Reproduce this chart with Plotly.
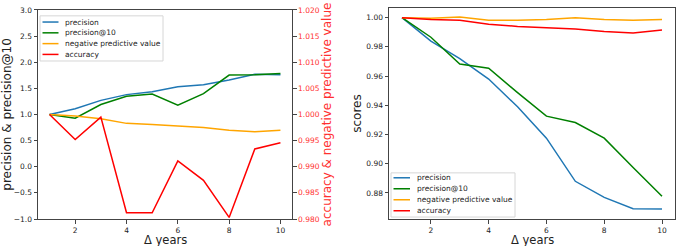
import plotly.graph_objects as go

years = [1, 2, 3, 4, 5, 6, 7, 8, 9, 10]

# left panel (relative change)
left_precision = [1.00, 1.11, 1.27, 1.38, 1.435, 1.53, 1.57, 1.66, 1.77, 1.76]
left_precision10 = [1.00, 0.93, 1.19, 1.35, 1.39, 1.18, 1.40, 1.755, 1.76, 1.785]
left_npv = [1.000, 0.9997, 0.9992, 0.9983, 0.9981, 0.9978, 0.9975, 0.9970, 0.9967, 0.9970]
left_accuracy = [1.000, 0.9952, 0.9995, 0.9812, 0.9812, 0.9911, 0.9874, 0.9803, 0.9934, 0.9946]

# right panel (scores)
right_precision = [1.000, 0.984, 0.972, 0.958, 0.939, 0.9175, 0.888, 0.877, 0.8693, 0.869]
right_precision10 = [1.000, 0.9866, 0.9683, 0.9654, 0.9487, 0.9326, 0.9282, 0.9175, 0.8974, 0.8778]
right_npv = [1.000, 0.9996, 1.0004, 0.9982, 0.9982, 0.9987, 1.000, 0.9987, 0.9982, 0.9987]
right_accuracy = [1.000, 0.9987, 0.9982, 0.9955, 0.994, 0.9931, 0.9922, 0.9906, 0.9895, 0.9915]

names = ["precision", "precision@10", "negative predictive value", "accuracy"]
colors = ["#1f77b4", "#008000", "#FFA500", "#FF0000"]

left_ytick = [-1.0, -0.5, 0.0, 0.5, 1.0, 1.5, 2.0, 2.5, 3.0]
left_y2tick = [0.980, 0.985, 0.990, 0.995, 1.000, 1.005, 1.010, 1.015, 1.020]
right_ytick = [0.88, 0.90, 0.92, 0.94, 0.96, 0.98, 1.00]
xtick = [2, 4, 6, 8, 10]

FONT = "DejaVu Sans"
W, H = 685, 246
ML, MR, MT, MB = 38, 10, 4, 27
PW, PH = W - ML - MR, H - MT - MB


def px(x):
    return (x - ML) / PW


def py(y):
    return (H - MB - y) / PH


fig = go.Figure()
lw = 1.5
fig.add_trace(go.Scatter(x=years, y=left_precision, name=names[0], mode="lines",
                         line=dict(color=colors[0], width=lw), xaxis="x", yaxis="y"))
fig.add_trace(go.Scatter(x=years, y=left_precision10, name=names[1], mode="lines",
                         line=dict(color=colors[1], width=lw), xaxis="x", yaxis="y"))
fig.add_trace(go.Scatter(x=years, y=left_npv, name=names[2], mode="lines",
                         line=dict(color=colors[2], width=lw), xaxis="x", yaxis="y2"))
fig.add_trace(go.Scatter(x=years, y=left_accuracy, name=names[3], mode="lines",
                         line=dict(color=colors[3], width=lw), xaxis="x", yaxis="y2"))

for vals, n, c in zip([right_precision, right_precision10, right_npv, right_accuracy], names, colors):
    fig.add_trace(go.Scatter(x=years, y=vals, name=n, mode="lines",
                             line=dict(color=c, width=lw), xaxis="x2", yaxis="y3"))

TICK = 7.5
tickfont = dict(family=FONT, size=TICK, color="#222")
axcommon = dict(showline=True, linecolor="#444", linewidth=1, ticks="outside", ticklen=3.5,
                tickcolor="#444", showgrid=False, zeroline=False, tickfont=tickfont)

shapes = []
annotations = []
# compact matplotlib-style legends (box + key lines + labels)
legend_boxes = [
    # (box x0, y0, x1, y1, first item y, item step, key x0, key x1, text x)
    (40, 12, 163, 58, 18.3, 11.0, 42.5, 58.5, 63),
    (391, 172, 515, 217, 177.0, 11.2, 393.5, 410, 415),
]
for (bx0, by0, bx1, by1, iy, step, kx0, kx1, tx) in legend_boxes:
    shapes.append(dict(type="rect", xref="paper", yref="paper", x0=px(bx0), x1=px(bx1),
                       y0=py(by1), y1=py(by0), line=dict(color="#d6d6d6", width=1),
                       fillcolor="rgba(255,255,255,0.85)", layer="above"))
    for i, (n, c) in enumerate(zip(names, colors)):
        yy = iy + i * step
        shapes.append(dict(type="line", xref="paper", yref="paper", x0=px(kx0), x1=px(kx1),
                           y0=py(yy), y1=py(yy), line=dict(color=c, width=1.5), layer="above"))
        annotations.append(dict(text=n, xref="paper", yref="paper", x=px(tx), y=py(yy),
                                xanchor="left", yanchor="middle", showarrow=False,
                                font=dict(family=FONT, size=7.5, color="#222")))

# x-axis titles
for cx in [(38 + 292) / 2, (389 + 675) / 2]:
    annotations.append(dict(text="Δ years", xref="paper", yref="paper", x=px(cx), y=py(240),
                            xanchor="center", yanchor="middle", showarrow=False,
                            font=dict(family=FONT, size=11.5, color="#222")))

fig.update_layout(
    width=W, height=H,
    margin=dict(l=ML, r=MR, t=MT, b=MB),
    paper_bgcolor="white", plot_bgcolor="white",
    font=dict(family=FONT, color="#222"),
    showlegend=False,
    xaxis=dict(domain=[0, px(292)], range=[0.55, 10.45], tickvals=xtick, mirror=True,
               anchor="y", **axcommon),
    yaxis=dict(domain=[0, py(6)], range=[-1, 3], tickvals=left_ytick, tickformat=".1f",
               anchor="x", title=dict(text="precision & precision@10", font=dict(size=12), standoff=1),
               **axcommon),
    yaxis2=dict(overlaying="y", side="right", anchor="x", range=[0.98, 1.02], tickvals=left_y2tick,
                tickformat=".3f", showline=True, linecolor="#444", linewidth=1, ticks="outside",
                ticklen=3.5, tickcolor="#444", showgrid=False, zeroline=False,
                tickfont=dict(family=FONT, size=TICK, color="#FF3030"),
                title=dict(text="accuracy & negative predictive value",
                           font=dict(size=12, color="#FF3030"), standoff=2)),
    xaxis2=dict(domain=[px(389), 1.0], range=[0.55, 10.45], tickvals=xtick, mirror=True,
                anchor="y3", **axcommon),
    yaxis3=dict(domain=[0, 1.0], range=[0.8622, 1.0066], tickvals=right_ytick, tickformat=".2f",
                mirror=True, anchor="x2",
                title=dict(text="scores", font=dict(size=12), standoff=2), **axcommon),
    shapes=shapes,
    annotations=annotations,
)

fig.write_html(
    "out.html",
    config={"displayModeBar": False},
    post_script="document.body.style.margin='0';document.body.style.padding='0';"
                "document.body.style.overflow='hidden';",
)
